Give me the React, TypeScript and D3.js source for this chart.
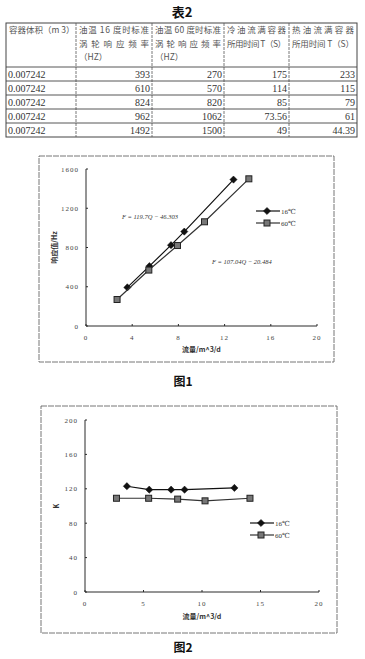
import * as d3 from 'd3';

// table 2
const headers = [
  ['容器体积（m 3）'],
  ['油温 16 度时标准', '涡轮响应频率', '（HZ）'],
  ['油温 60 度时标准', '涡轮响应频率', '（HZ）'],
  ['冷油流满容器', '所用时间 T（S）'],
  ['热油流满容器', '所用时间 T（S）'],
];
const volumes = ['0.007242', '0.007242', '0.007242', '0.007242', '0.007242'];
const freq16 = ['393', '610', '824', '962', '1492'];
const freq60 = ['270', '570', '820', '1062', '1500'];
const timeCold = ['175', '114', '85', '73.56', '49'];
const timeHot = ['233', '115', '79', '61', '44.39'];

// flow rates (m3/d)
const flow16 = [3.58, 5.49, 7.36, 8.51, 12.77];
const flow60 = [2.69, 5.44, 7.92, 10.26, 14.1];
// fig 1 response values
const resp16 = [393, 610, 824, 962, 1492];
const resp60 = [270, 570, 820, 1062, 1500];
// fig 2 K values
const k16 = [123, 119, 119, 119, 121];
const k60 = [109, 109, 108, 106, 109];

const fig1XTicks = [0, 4, 8, 12, 16, 20];
const fig1YTicks = [0, 400, 800, 1200, 1600];
const fig2XTicks = [0, 5, 10, 15, 20];
const fig2YTicks = [0, 40, 80, 120, 160, 200];
const seriesNames = ['16℃', '60℃'];

const CJK = '"Noto Sans CJK SC", sans-serif';
const SERIF = '"Liberation Serif", "DejaVu Serif", serif';
const INK = '#2a2a2a';

function Table() {
  const colX = [6, 76, 152, 224, 289, 357];
  const top = 23;
  const headBottom = 67;
  const rowH = 14;
  const cols = [volumes, freq16, freq60, timeCold, timeHot];
  const nRows = volumes.length;
  const bottom = headBottom + rowH * nRows;
  return (
    <g>
      <text x={182} y={17} textAnchor="middle" fontFamily={CJK} fontWeight="bold" fontSize={13} fill="#111">表2</text>
      <rect x={colX[0]} y={top} width={colX[5] - colX[0]} height={bottom - top} fill="none" stroke="#444" strokeWidth={1} />
      {colX.slice(1, 5).map((x, i) => (
        <line key={'c' + i} x1={x} x2={x} y1={top} y2={bottom} stroke="#555" strokeWidth={0.8} strokeDasharray="3,1" />
      ))}
      {d3.range(nRows).map(i => (
        <line key={'r' + i} x1={colX[0]} x2={colX[5]} y1={headBottom + i * rowH} y2={headBottom + i * rowH} stroke="#444" strokeWidth={0.9} />
      ))}
      {headers.map((lines, ci) =>
        lines.map((t, li) => {
          const w = colX[ci + 1] - colX[ci] - 6;
          const isUnit = t.startsWith('（HZ');
          return (
            <text key={ci + '-' + li} x={colX[ci] + 3} y={top + 10 + li * 13.5} fontFamily={CJK} fontSize={8.5} fill="#555"
              textLength={isUnit || ci === 0 ? undefined : w} lengthAdjust="spacing">{t}</text>
          );
        })
      )}
      {cols.map((col, ci) =>
        col.map((v, ri) => (
          <text key={ci + 'v' + ri} x={ci === 0 ? colX[0] + 2 : colX[ci + 1] - 2} y={headBottom + ri * rowH + 10.5}
            textAnchor={ci === 0 ? 'start' : 'end'} fontFamily={SERIF} fontSize={10} fill="#333">{v}</text>
        ))
      )}
    </g>
  );
}

interface ChartProps {
  frame: { x: number; y: number; w: number; h: number };
  xRange: [number, number];
  yRange: [number, number];
  xMax: number;
  yMax: number;
  xTicks: number[];
  yTicks: number[];
  ys: [number[], number[]];
  yLabel: string;
  xLabelY: number;
  legend: { x: number; y: number };
  caption: { text: string; y: number };
  children?: any;
}

function Marker({ kind, x, y }: { kind: number; x: number; y: number }) {
  if (kind === 0) {
    const s = 3.6;
    return <path d={`M${x},${y - s}L${x + s},${y}L${x},${y + s}L${x - s},${y}Z`} fill="#111" stroke="#111" strokeWidth={0.5} />;
  }
  return <rect x={x - 3} y={y - 3} width={6} height={6} fill="#777" stroke="#222" strokeWidth={1} />;
}

function Chart(p: ChartProps) {
  const x = d3.scaleLinear().domain([0, p.xMax]).range(p.xRange);
  const y = d3.scaleLinear().domain([0, p.yMax]).range(p.yRange);
  const line = d3.line<[number, number]>().x(d => x(d[0])).y(d => y(d[1]));
  const flows = [flow16, flow60];
  const x0 = p.xRange[0];
  const y0 = p.yRange[0];
  return (
    <g>
      <rect x={p.frame.x} y={p.frame.y} width={p.frame.w} height={p.frame.h} fill="none" stroke="#666" strokeWidth={0.9} strokeDasharray="6,1" />
      <line x1={x0} x2={p.xRange[1]} y1={y0} y2={y0} stroke={INK} strokeWidth={1} />
      <line x1={x0} x2={x0} y1={y0} y2={p.yRange[1]} stroke={INK} strokeWidth={1} />
      {p.xTicks.map(t => (
        <g key={'x' + t}>
          <line x1={x(t)} x2={x(t)} y1={y0} y2={y0 - 2} stroke={INK} />
          <text x={x(t)} y={y0 + 14} textAnchor="middle" fontFamily={SERIF} fontSize={7} fill="#444" letterSpacing={1}>{t}</text>
        </g>
      ))}
      {p.yTicks.map(t => (
        <g key={'y' + t}>
          <line x1={x0} x2={x0 + 2} y1={y(t)} y2={y(t)} stroke={INK} />
          <text x={x0 - 7} y={y(t) + 2.5} textAnchor="end" fontFamily={SERIF} fontSize={7} fill="#444" letterSpacing={1}>{t}</text>
        </g>
      ))}
      <text x={(x0 + p.xRange[1]) / 2} y={p.xLabelY} textAnchor="middle" fontFamily={CJK} fontSize={7} fontWeight="bold" fill="#333">流量/m^3/d</text>
      <text transform={`translate(${p.frame.x + 18},${(y0 + p.yRange[1]) / 2}) rotate(-90)`} textAnchor="middle"
        fontFamily={CJK} fontSize={7} fontWeight="bold" fill="#333">{p.yLabel}</text>
      {p.ys.map((ys, si) => {
        const pts = flows[si].map((f, i) => [f, ys[i]] as [number, number]);
        return (
          <g key={'s' + si}>
            <path d={line(pts) || ''} fill="none" stroke={si === 0 ? '#111' : '#333'} strokeWidth={1.2} />
            {pts.map((pt, i) => <Marker key={i} kind={si} x={x(pt[0])} y={y(pt[1])} />)}
          </g>
        );
      })}
      {seriesNames.map((n, si) => (
        <g key={'l' + si} transform={`translate(${p.legend.x},${p.legend.y + si * 12})`}>
          <line x1={0} x2={24} y1={0} y2={0} stroke={si === 0 ? '#111' : '#333'} strokeWidth={1.2} />
          <Marker kind={si} x={11} y={0} />
          <text x={25} y={2.5} fontFamily={SERIF} fontSize={7} fill="#333">{n}</text>
        </g>
      ))}
      {p.children}
      <text x={183} y={p.caption.y} textAnchor="middle" fontFamily={CJK} fontWeight="bold" fontSize={12} fill="#111">{p.caption.text}</text>
    </g>
  );
}

export default function App() {
  return (
    <svg width={365} height={659} style={{ position: 'absolute', left: 0, top: 0, background: '#fff' }}>
      <rect width={365} height={659} fill="#fff" />
      <Table />
      <Chart frame={{ x: 39, y: 156, w: 295, h: 206 }} xRange={[86, 317]} yRange={[326, 169]} xMax={20} yMax={1600}
        xTicks={fig1XTicks} yTicks={fig1YTicks} ys={[resp16, resp60]} yLabel="响应值/Hz" xLabelY={352}
        legend={{ x: 256, y: 211 }} caption={{ text: '图1', y: 386 }}>
        <text x={122} y={219} fontFamily={SERIF} fontStyle="italic" fontSize={6.5} fill="#333">F = 119.7Q − 46.303</text>
        <text x={212} y={264} fontFamily={SERIF} fontStyle="italic" fontSize={6.5} fill="#333">F = 107.04Q − 20.484</text>
      </Chart>
      <Chart frame={{ x: 41, y: 406, w: 296, h: 227 }} xRange={[85, 319]} yRange={[592, 420]} xMax={20} yMax={200}
        xTicks={fig2XTicks} yTicks={fig2YTicks} ys={[k16, k60]} yLabel="K" xLabelY={619}
        legend={{ x: 250, y: 523 }} caption={{ text: '图2', y: 652 }} />
    </svg>
  );
}
